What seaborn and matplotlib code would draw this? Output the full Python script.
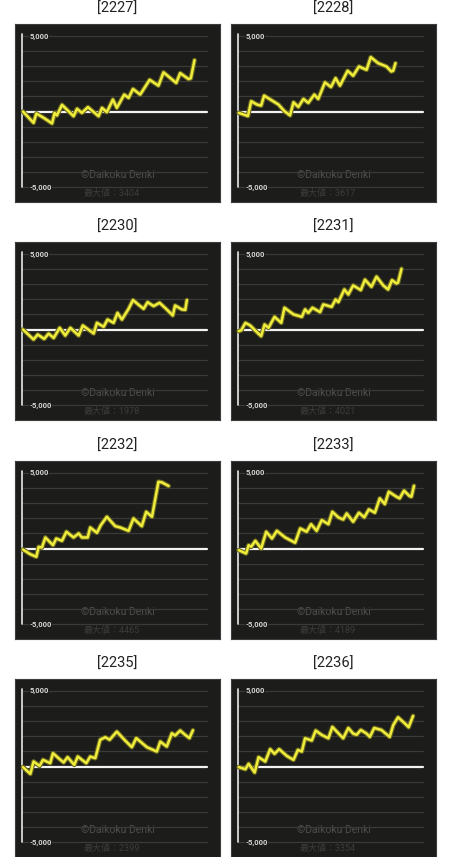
import numpy as np
import pandas as pd
import matplotlib
matplotlib.use("Agg")
import matplotlib.pyplot as plt
import seaborn as sns

# ==========================================
# DATA (games played vs. coin difference)
# ==========================================
machines = ["2227", "2228", "2230", "2231", "2232", "2233", "2235", "2236"]
max_values = [3404, 3617, 1978, 4021, 4465, 4189, 2399, 3354]

games_2227 = [40, 500, 620, 940, 1300, 1410, 1510, 1730, 2230, 2380, 2590, 2850, 3310, 3460, 3670,
              3930, 4100, 4420, 4610, 4800, 5110, 5520, 5900, 6120, 6670, 6840, 7200, 7300, 7460]
diff_2227 = [0, -750, -130, -420, -790, -90, -260, 440, -310, 180, -90, 290, -310, 240, -40,
             790, 240, 1120, 900, 1490, 1120, 2100, 1710, 2590, 1890, 2540, 2150, 2200, 3400]

games_2228 = [30, 430, 570, 820, 1000, 1130, 1750, 2010, 2250, 2400, 2610, 2830, 3040, 3300, 3470,
              3760, 4020, 4220, 4410, 4740, 4980, 5230, 5560, 5740, 6060, 6420, 6630, 6710, 6810]
diff_2228 = [-90, -300, 680, 460, 390, 1050, 460, 20, -260, 610, 300, 830, 570, 1120, 830,
             1930, 1620, 2210, 1710, 2700, 2370, 2980, 2760, 3600, 3200, 2980, 2650, 2700, 3200]

games_2230 = [40, 500, 680, 960, 1150, 1370, 1630, 1870, 2090, 2450, 2630, 3100, 3240, 3530, 3700, 3960,
              4130, 4320, 4610, 4800, 5080, 5260, 5430, 5690, 5950, 6230, 6520, 6620, 6910, 7060, 7130]
diff_2230 = [0, -660, -330, -620, -270, -560, 110, -400, 110, -400, 265, -265, 440, 180, 660, 440,
             1100, 660, 1370, 1950, 1590, 1370, 1810, 1550, 1770, 1370, 930, 1590, 1330, 1300, 1950]

games_2231 = [30, 140, 320, 530, 820, 1000, 1150, 1320, 1580, 1870, 2010, 2400, 2760, 2900, 3040, 3220, 3550,
              3690, 4050, 4220, 4340, 4600, 4770, 4980, 5310, 5490, 5770, 5990, 6280, 6490, 6660, 6850, 6920, 7070]
diff_2231 = [-110, -50, 440, 265, -180, -440, 330, 110, 840, 440, 1440, 1000, 840, 1330, 1100, 1440, 1150,
             1660, 1500, 1990, 1810, 2650, 2320, 2920, 2610, 3300, 2830, 3500, 2920, 2650, 3270, 3050, 3100, 4020]

games_2232 = [40, 360, 620, 720, 860, 1010, 1340, 1480, 1730, 1920, 2230, 2450, 2590, 2840,
              2950, 3240, 3410, 3670, 4030, 4250, 4610, 4820, 5180, 5370, 5620, 5900, 6050, 6340]
diff_2232 = [-70, -380, -550, 110, 60, 730, 220, 660, 510, 1110, 730, 1000, 730, 730,
             1390, 1040, 1550, 2100, 1480, 1390, 1170, 1990, 1480, 2430, 2100, 4420, 4380, 4140]

games_2233 = [30, 350, 460, 570, 750, 1000, 1220, 1470, 1680, 2040, 2470, 2690, 2970, 3160, 3400, 3620, 3910, 4080,
              4340, 4550, 4700, 4980, 5230, 5460, 5660, 5920, 6130, 6350, 6520, 6850, 6990, 7180, 7420, 7500, 7610]
diff_2233 = [-110, -330, 220, 110, 510, 0, 1110, 660, 1170, 730, 380, 1330, 1110, 1610, 1170, 1880, 1610, 2430,
             2060, 1920, 2320, 1770, 2370, 2060, 2590, 2370, 3320, 2940, 3760, 3430, 3320, 3830, 3470, 3430, 4150]

games_2235 = [40, 360, 500, 760, 910, 1220, 1340, 1580, 1800, 1970, 2260, 2410, 2780, 2950, 3170, 3380,
              3600, 3790, 4100, 4460, 4750, 4940, 5400, 5830, 5980, 6260, 6480, 6620, 6840, 7060, 7240, 7390]
diff_2235 = [-40, -490, 330, 40, 440, 220, 880, 550, 270, 620, 110, 660, 220, 660, 550, 1770,
             1940, 1770, 2310, 1720, 1280, 1880, 1280, 990, 1650, 1320, 2200, 2050, 2380, 2090, 1880, 2400]

games_2236 = [30, 320, 460, 720, 890, 1180, 1390, 1580, 1780, 2110, 2400, 2590, 2760, 2900, 3190, 3360, 3620, 3910,
              4080, 4410, 4550, 4770, 4980, 5130, 5310, 5560, 5700, 5890, 6200, 6560, 6710, 6920, 7210, 7380, 7570]
diff_2236 = [-40, -180, 180, -400, 620, 330, 1150, 840, 1150, 700, 440, 1100, 990, 1870, 1720, 2380, 2090, 1870,
             2620, 2090, 1870, 2550, 2180, 2100, 2420, 2180, 1960, 2550, 2420, 1960, 2730, 3260, 2860, 2600, 3350]

all_games = [games_2227, games_2228, games_2230, games_2231, games_2232, games_2233, games_2235, games_2236]
all_diffs = [diff_2227, diff_2228, diff_2230, diff_2231, diff_2232, diff_2233, diff_2235, diff_2236]

grid_levels = list(range(-5000, 5001, 1000))
GAME_SPAN = 8000

# ==========================================
# STYLE / LAYOUT
# ==========================================
sns.set_style("white")
plt.rcParams['font.family'] = ['Roboto', 'Noto Sans CJK JP', 'DejaVu Sans']

W, H = 450, 857
fig = plt.figure(figsize=(W / 100, H / 100), dpi=100, facecolor='white')

col_left = [15, 231]
row_top = [24, 242, 461, 679]
box_w, box_h = 205, 178

# pixel margins inside the dark box
ax_px_left, ax_px_right = 7, 13
ax_px_top, ax_px_bottom = 12, 15
px_x = GAME_SPAN / (box_w - ax_px_left - ax_px_right)
px_y = 10000 / (box_h - ax_px_top - ax_px_bottom)

for i, (name, games, diffs, mx) in enumerate(zip(machines, all_games, all_diffs, max_values)):
    r, c = divmod(i, 2)
    x0, y0 = col_left[c], row_top[r]
    ax = fig.add_axes([x0 / W, 1 - (y0 + box_h) / H, box_w / W, box_h / H])
    ax.set_facecolor('#1c1c1b')
    for s in ax.spines.values():
        s.set_color('#3c3c3c')
        s.set_linewidth(0.8)
    ax.set_xlim(-ax_px_left * px_x, GAME_SPAN + ax_px_right * px_x)
    ax.set_ylim(-5000 - ax_px_bottom * px_y, 5000 + ax_px_top * px_y)
    ax.set_xticks([])
    ax.set_yticks([])

    # horizontal grid
    for g in grid_levels:
        if g == 0:
            continue
        ax.plot([0, GAME_SPAN], [g, g], color='#3a3a38', lw=0.9, zorder=1)
    ax.plot([0, GAME_SPAN], [0, 0], color='#f2f2f2', lw=1.6, zorder=2)
    ax.plot([0, 0], [-5000, 5150], color='#e8e8e8', lw=1.2, zorder=2)

    ax.text(0.04 * GAME_SPAN, 5000, "5,000", color='#d4d4d4', fontsize=5.5, fontweight='bold',
            va='center', ha='left', zorder=3,
            bbox=dict(facecolor='#1c1c1b', edgecolor='none', pad=0.3))
    ax.text(0.04 * GAME_SPAN, -5000, "-5,000", color='#d4d4d4', fontsize=5.5, fontweight='bold',
            va='center', ha='left', zorder=3,
            bbox=dict(facecolor='#1c1c1b', edgecolor='none', pad=0.3))

    ax.text(0.5, 27 / box_h, "©Daikoku Denki", transform=ax.transAxes, color='#4e4e4c',
            fontsize=7.5, ha='center', va='center', zorder=0.5)
    ax.text(0.47, 9 / box_h, f"最大値：{mx}", transform=ax.transAxes, color='#3c3c3a',
            fontsize=6.5, ha='center', va='center', zorder=0.5)

    df = pd.DataFrame({'games': games, 'diff': diffs})
    sns.lineplot(data=df, x='games', y='diff', ax=ax, color='#6b6a20', lw=3.4, zorder=4,
                 sort=False, legend=False)
    sns.lineplot(data=df, x='games', y='diff', ax=ax, color='#f0ec3c', lw=1.8, zorder=5,
                 sort=False, legend=False)
    ax.set_xlabel('')
    ax.set_ylabel('')

    fig.text((x0 + box_w / 2) / W, 1 - (y0 - 15) / H, f"[{name}]", ha='center', va='center',
             fontsize=10.5, color='#222222')

fig.savefig("out.png", dpi=100, facecolor='white')
